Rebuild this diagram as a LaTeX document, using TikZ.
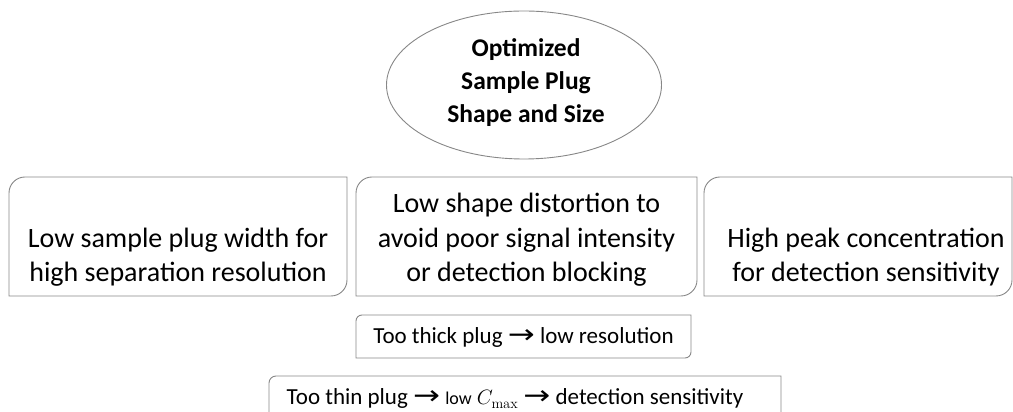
\documentclass[tikz,border=0pt]{standalone}
\usepackage[no-math]{fontspec}
\setmainfont{Carlito}
\newfontfamily\arrowfont{DejaVu Sans}
\usetikzlibrary{shapes.geometric}
\newcommand\myarrow{\raisebox{0.5pt}{\scalebox{1.4}[1.15]{\arrowfont\char"2192}}}
\definecolor{edgegray}{RGB}{135,135,135}
\tikzset{
  outline/.style={draw=edgegray, line width=0.9pt},
  area/.style={inner sep=0pt, outer sep=0pt},
  boxtext/.style={inner sep=0pt, align=center, anchor=base, font=\fontsize{28}{34.5}\selectfont},
  smalltext/.style={inner sep=0pt, anchor=base, font=\fontsize{23}{28}\selectfont},
  goalnode/.style={ellipse, draw=edgegray, line width=0.9pt, inner sep=0pt,
     minimum width=275pt, minimum height=148pt},
  goaltext/.style={inner sep=0pt, align=center, anchor=base, font=\bfseries\fontsize{25.5}{33}\selectfont},
}
\newcommand\diagoutline[2]{%
  \draw[outline] ([yshift=-#2]#1.north west) arc[start angle=180,end angle=90,radius=#2]
    -- (#1.north east) -- ([yshift=#2]#1.south east) arc[start angle=0,end angle=-90,radius=#2]
    -- (#1.south west) -- cycle;}
\begin{document}
\begin{tikzpicture}[x=1pt,y=1pt]
\useasboundingbox (0,0) rectangle (1013,412);
% goal ellipse
\node[goalnode] (goal) at (524,327) {};
\node[goaltext] (gt) at (526,289) {Optimized\\Sample Plug\\Shape and Size};
% three criteria boxes
\node[area, minimum width=338pt, minimum height=119pt] (b1) at (178,175.5) {};
\node[area, minimum width=341pt, minimum height=119pt] (b2) at (526.5,175.5) {};
\node[area, minimum width=308pt, minimum height=119pt] (b3) at (858,175.5) {};
\diagoutline{b1}{16pt}
\diagoutline{b2}{16pt}
\diagoutline{b3}{16pt}
\node[boxtext] (t1) at (178,130) {Low sample plug width for\\high separation resolution};
\node[boxtext] (t2) at (526.5,130) {Low shape distortion to\\avoid poor signal intensity\\or detection blocking};
\node[boxtext] (t3) at (866,130) {High peak concentration\\for detection sensitivity};
% thick plug box
\node[area, minimum width=335pt, minimum height=43pt] (b4) at (523.5,75.5) {};
\diagoutline{b4}{6pt}
\node[smalltext] (t4) at (523.5,68) {Too thick plug \myarrow\ low resolution};
% thin plug box (cut by the lower edge)
\node[area, minimum width=512pt, minimum height=36pt] (b5) at (525,18) {};
\draw[outline] (b5.south west) -- ([yshift=-7pt]b5.north west) arc[start angle=180,end angle=90,radius=7pt]
  -- (b5.north east) -- (b5.south east);
\node[smalltext] (t5) at (515,7) {Too thin plug \myarrow\ {\fontsize{18}{20}\selectfont low} {\fontsize{21}{24}\selectfont$C_{\max}$} \myarrow\ detection sensitivity};
\end{tikzpicture}
\end{document}
